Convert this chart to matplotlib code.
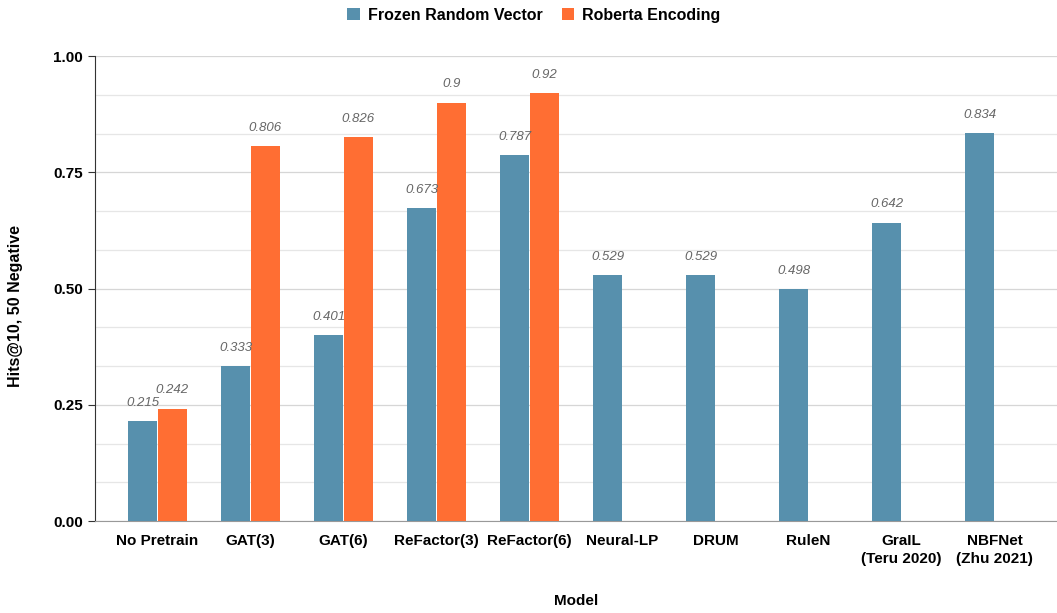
import numpy as np
import matplotlib.pyplot as plt
from matplotlib.ticker import MultipleLocator

plt.rcParams['font.family'] = ['Liberation Sans', 'DejaVu Sans']

# data
models = ['No Pretrain', 'GAT(3)', 'GAT(6)', 'ReFactor(3)', 'ReFactor(6)',
          'Neural-LP', 'DRUM', 'RuleN', 'GraIL\n(Teru 2020)', 'NBFNet\n(Zhu 2021)']
frozen = [0.215, 0.333, 0.401, 0.673, 0.787, 0.529, 0.529, 0.498, 0.642, 0.834]
roberta = [0.242, 0.806, 0.826, 0.9, 0.92, np.nan, np.nan, np.nan, np.nan, np.nan]

blue = '#5790ad'
orange = '#ff6e33'

fig = plt.figure(figsize=(10.57, 6.13), dpi=100)
ax = fig.add_axes([0.0899, 0.150, 0.9101, 0.7586])

x = np.arange(len(models))
w = 0.31
b1 = ax.bar(x - w / 2 - 0.005, frozen, w, color=blue, label='Frozen Random Vector', zorder=3)
b2 = ax.bar(x + w / 2 + 0.005, roberta, w, color=orange, label='Roberta Encoding', zorder=3)

# value labels above bars
for bars, vals in [(b1, frozen), (b2, roberta)]:
    for rect, v in zip(bars, vals):
        if np.isnan(v):
            continue
        ax.annotate(f'{v:g}', (rect.get_x() + rect.get_width() / 2, v),
                    xytext=(0, 13), textcoords='offset points', ha='center', va='center',
                    fontsize=9.5, style='italic', color='#666666')

ax.set_xlim(-0.672, 9.672)
ax.set_ylim(0, 1.0)
ax.yaxis.set_major_locator(MultipleLocator(0.25))
ax.yaxis.set_minor_locator(MultipleLocator(0.25 / 3))
ax.yaxis.set_major_formatter(plt.FormatStrFormatter('%.2f'))
ax.grid(axis='y', which='major', color='#d6d6d6', linewidth=0.9, zorder=0)
ax.grid(axis='y', which='minor', color='#e6e6e6', linewidth=0.9, zorder=0)
ax.tick_params(axis='y', which='minor', length=0)
ax.tick_params(axis='y', which='major', length=5, color='#333333', labelsize=11)
ax.tick_params(axis='x', length=0, labelsize=11, pad=9)

ax.set_xticks(x)
ax.set_xticklabels(models, fontweight='bold', linespacing=1.45)
for lbl in ax.get_yticklabels():
    lbl.set_fontweight('bold')

for s in ['top', 'right']:
    ax.spines[s].set_visible(False)
ax.spines['left'].set_color('#333333')
ax.spines['bottom'].set_color('#999999')

ax.set_ylabel('Hits@10, 50 Negative', fontweight='bold', fontsize=11.5)
ax.yaxis.set_label_coords(-0.075, 0.462)
ax.set_xlabel('Model', fontweight='bold', fontsize=11)
ax.xaxis.set_label_coords(0.5, -0.157)

fig.legend(loc='center', bbox_to_anchor=(0.505, 0.975), ncol=2, frameon=False,
           handlelength=0.8, handleheight=0.8, handletextpad=0.5, columnspacing=1.2,
           prop={'weight': 'bold', 'size': 11.5})

fig.savefig('out.png', dpi=100)
